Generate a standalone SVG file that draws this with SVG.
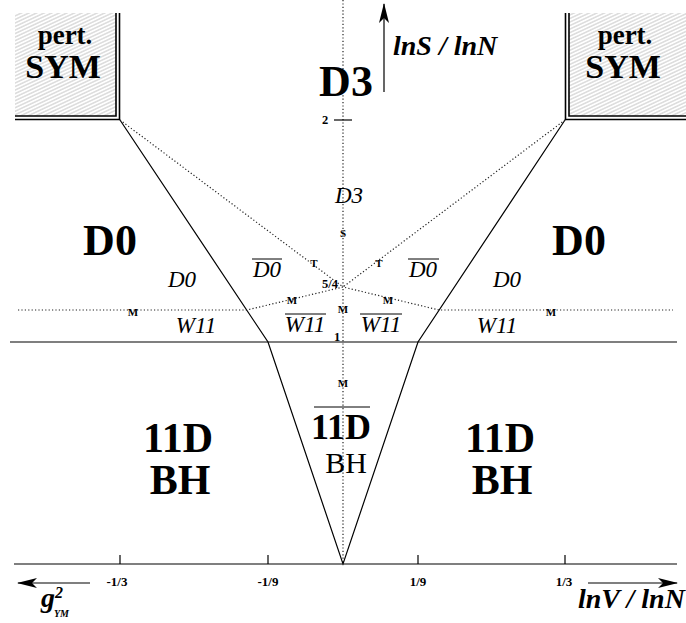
<svg xmlns="http://www.w3.org/2000/svg" width="686" height="623" viewBox="0 0 686 623">
<style>
text{font-family:"Liberation Serif","Times New Roman",serif;fill:#000}
.bb{font-weight:bold}
.it{font-style:italic}
.bi{font-weight:bold;font-style:italic}
.sm{font-weight:bold;font-size:11px;text-anchor:middle}
.num{font-weight:bold;font-size:12.5px;text-anchor:middle}
.tk{font-weight:bold;font-size:13px;text-anchor:middle}
.lab{font-style:italic;font-size:23px;text-anchor:middle}
.big{font-weight:bold;font-size:44px}
.sol{stroke:#000;stroke-width:1.2;fill:none}
.dot{stroke:#222;stroke-width:1.2;stroke-dasharray:1.2 2.2;fill:none}
.ov{stroke:#000;stroke-width:1}
.box{stroke:#000;stroke-width:1.6;fill:none}
</style>
<defs>
<pattern id="hatch" patternUnits="userSpaceOnUse" width="8" height="3.2" patternTransform="rotate(-25)">
<rect width="8" height="3.2" fill="#fff"/>
<line x1="0" y1="1.6" x2="8" y2="1.6" stroke="#9a9a9a" stroke-width="0.6"/>
</pattern>
<marker id="ah" viewBox="0 0 20 10" refX="19" refY="5" markerWidth="20" markerHeight="10" markerUnits="userSpaceOnUse" orient="auto">
<path d="M0,0 L20,5 L0,10 L5,5 Z" fill="#000"/>
</marker>
</defs>
<rect width="686" height="623" fill="#fff"/>

<g id="connectors">
<line class="dot" x1="343" y1="0" x2="343" y2="564"/>
<line class="sol" x1="14" y1="564" x2="677" y2="564"/>
<line class="sol" x1="120" y1="555" x2="120" y2="564"/>
<line class="sol" x1="268" y1="555" x2="268" y2="564"/>
<line class="sol" x1="418" y1="555" x2="418" y2="564"/>
<line class="sol" x1="565" y1="555" x2="565" y2="564"/>
<line class="sol" x1="334" y1="120" x2="352" y2="120"/>
<line class="sol" x1="10" y1="342" x2="677" y2="342"/>
<polyline class="sol" points="120,120 268,342 343,564 418,342 565,120"/>
<line class="dot" x1="120" y1="120" x2="343" y2="287"/>
<line class="dot" x1="565" y1="120" x2="343" y2="287"/>
<polyline class="dot" points="18,310 247,310 343,287 439,310 673,310"/>
<line x1="384" y1="92" x2="384" y2="4" stroke="#000" stroke-width="1.2" marker-end="url(#ah)"/>
<line x1="90" y1="583" x2="18" y2="583" stroke="#000" stroke-width="1.2" marker-end="url(#ah)"/>
<line x1="588" y1="583" x2="677" y2="583" stroke="#000" stroke-width="1.2" marker-end="url(#ah)"/>
</g>

<g id="pertSYM-left">
<rect x="15" y="13" width="101" height="103" fill="url(#hatch)"/>
<polyline class="box" points="116,13 116,116 15,116"/>
<polyline class="box" points="119.5,13 119.5,119.5 15,119.5"/>
<text class="bb" x="65" y="44" font-size="27" text-anchor="middle">pert.</text>
<text class="bb" x="63" y="78" font-size="34" text-anchor="middle">SYM</text>
</g>

<g id="pertSYM-right">
<rect x="569" y="13" width="117" height="103" fill="url(#hatch)"/>
<polyline class="box" points="569,13 569,116 686,116"/>
<polyline class="box" points="565.5,13 565.5,119.5 686,119.5"/>
<text class="bb" x="625" y="44" font-size="27" text-anchor="middle">pert.</text>
<text class="bb" x="623" y="78" font-size="34" text-anchor="middle">SYM</text>
</g>

<g id="D3-region">
<text class="big" x="346" y="96" text-anchor="middle">D3</text>
<text class="lab" x="349" y="203">D3</text>
</g>

<g id="axis-labels">
<text class="bi" x="393" y="55" font-size="28">lnS / lnN</text>
<text class="bi" x="578" y="608" font-size="28">lnV / lnN</text>
<text class="bi" x="41" y="607" font-size="28">g</text>
<text class="bi" x="55" y="598" font-size="16">2</text>
<text class="bi" x="54" y="617" font-size="10">YM</text>
<text class="tk" x="117" y="586">-1/3</text>
<text class="tk" x="268" y="586">-1/9</text>
<text class="tk" x="418" y="586">1/9</text>
<text class="tk" x="564" y="586">1/3</text>
<text class="num" x="325" y="124">2</text>
<text class="num" x="330" y="288">5/4</text>
<text class="num" x="337" y="341">1</text>
</g>

<g id="markers">
<text class="sm" x="343" y="237">S</text>
<text class="sm" x="314" y="267">T</text>
<text class="sm" x="379" y="267">T</text>
<text class="sm" x="292" y="304">M</text>
<text class="sm" x="343" y="313">M</text>
<text class="sm" x="388" y="304">M</text>
<text class="sm" x="133" y="316">M</text>
<text class="sm" x="551" y="316">M</text>
<text class="sm" x="343" y="387">M</text>
</g>

<g id="D0-left">
<text class="big" x="110" y="255" text-anchor="middle">D0</text>
<text class="lab" x="182" y="287">D0</text>
</g>
<g id="D0-right">
<text class="big" x="579" y="255" text-anchor="middle">D0</text>
<text class="lab" x="507" y="287">D0</text>
</g>

<g id="D0bar-left">
<text class="lab" x="267" y="277">D0</text>
<line class="ov" x1="252" y1="259" x2="282" y2="259"/>
</g>
<g id="D0bar-right">
<text class="lab" x="423" y="277">D0</text>
<line class="ov" x1="408" y1="259" x2="439" y2="259"/>
</g>

<g id="W11-left">
<text class="lab" x="196" y="333">W11</text>
</g>
<g id="W11-right">
<text class="lab" x="497" y="333">W11</text>
</g>
<g id="W11bar-left">
<text class="lab" x="305" y="332">W11</text>
<line class="ov" x1="285" y1="314" x2="326" y2="314"/>
</g>
<g id="W11bar-right">
<text class="lab" x="381" y="332">W11</text>
<line class="ov" x1="360" y1="314" x2="402" y2="314"/>
</g>

<g id="BH-left">
<text class="bb" x="178" y="452" font-size="42" text-anchor="middle">11D</text>
<text class="bb" x="180" y="494" font-size="42" text-anchor="middle">BH</text>
</g>
<g id="BH-right">
<text class="bb" x="500" y="452" font-size="42" text-anchor="middle">11D</text>
<text class="bb" x="502" y="494" font-size="42" text-anchor="middle">BH</text>
</g>
<g id="BH-center">
<text class="bb" x="341" y="439" font-size="36" text-anchor="middle">11D</text>
<line class="ov" x1="314" y1="407" x2="370" y2="407"/>
<text x="346" y="473" font-size="30" text-anchor="middle">BH</text>
</g>
</svg>
